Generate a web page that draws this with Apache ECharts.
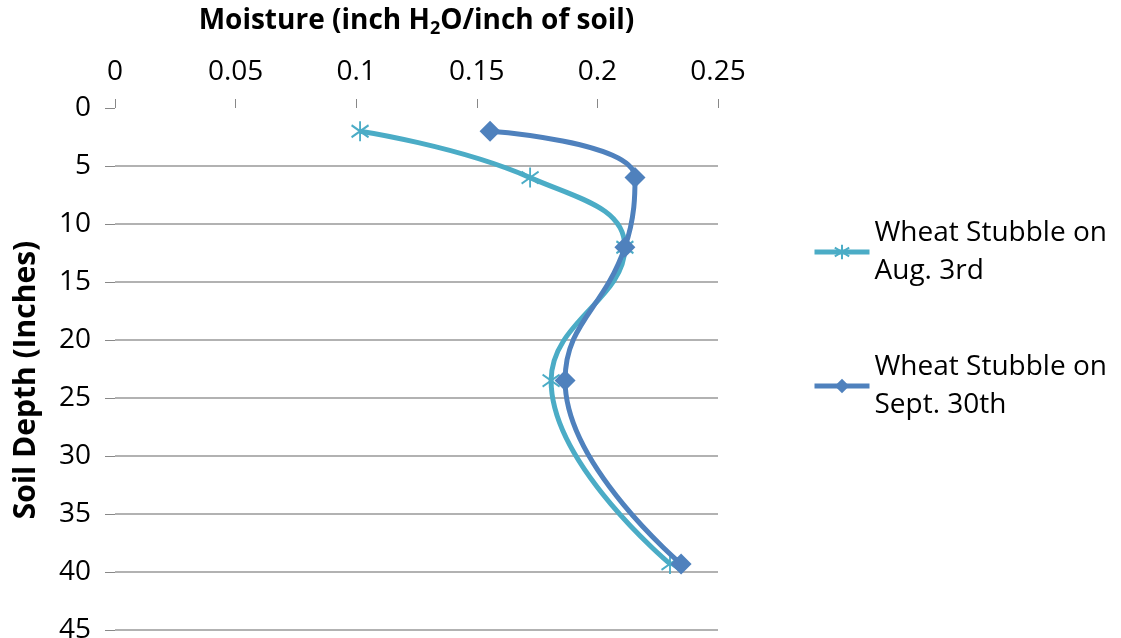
<!DOCTYPE html>
<html>
<head>
<meta charset="utf-8">
<script src="https://cdn.jsdelivr.net/npm/echarts@6/dist/echarts.min.js"></script>
<style>
html,body{margin:0;padding:0;background:#fff;}
#chart{width:1121px;height:638px;}
</style>
</head>
<body>
<div id="chart"></div>
<script>
const depths = [2, 6, 12, 23.5, 39.3];
const aug3 = [0.1016, 0.1721, 0.2114, 0.1808, 0.2301];
const sep30 = [0.1555, 0.2156, 0.2114, 0.1866, 0.2347];
const seriesNames = ['Wheat Stubble on\nAug. 3rd', 'Wheat Stubble on\nSept. 30th'];
const xTicks = [0, 0.05, 0.1, 0.15, 0.2, 0.25];
const yTicks = [0, 5, 10, 15, 20, 25, 30, 35, 40, 45];

const FONT = 'Open Sans';
const starPath = 'path://M0,-10L0,10M-8,-6L8,6M-8,6L8,-6';

const chart = echarts.init(document.getElementById('chart'));
chart.setOption({
  animation: false,
  textStyle: { fontFamily: FONT },
  grid: { left: 115, right: 403, top: 108, bottom: 8, outerBoundsMode: 'none', containLabel: false },
  xAxis: {
    type: 'value', position: 'top',
    min: xTicks[0], max: xTicks[xTicks.length - 1], interval: 0.05,
    name: 'Moisture (inch H{sub|2}O/inch of soil)',
    nameLocation: 'middle', nameGap: 70,
    nameTextStyle: {
      fontFamily: FONT, fontSize: 28, fontWeight: 'bold', color: '#000',
      rich: { sub: { fontFamily: FONT, fontSize: 18, fontWeight: 'bold', verticalAlign: 'bottom', padding: [16, 0, 0, 0] } }
    },
    axisLine: { show: false },
    axisTick: { show: true, length: 9, lineStyle: { color: '#888', width: 1 } },
    axisLabel: { fontFamily: FONT, fontSize: 28, color: '#000', margin: 22,
      formatter: v => String(v) },
    splitLine: { show: false }
  },
  yAxis: {
    type: 'value', inverse: true,
    min: yTicks[0], max: yTicks[yTicks.length - 1], interval: 5,
    name: 'Soil Depth (Inches)', nameLocation: 'middle', nameGap: 74, nameRotate: 90,
    nameTextStyle: { fontFamily: FONT, fontSize: 30, fontWeight: 'bold', color: '#000', padding: [0, 22, 0, 0] },
    axisLine: { show: false },
    axisTick: { show: true, length: 10, lineStyle: { color: '#888', width: 1 } },
    axisLabel: { fontFamily: FONT, fontSize: 28, color: '#000', margin: 24 },
    splitLine: { show: true, showMinLine: false, lineStyle: { color: '#999', width: 1.5 } }
  },
  legend: {
    orient: 'vertical', left: 807, top: 190,
    itemWidth: 55, itemHeight: 18, itemGap: 20,
    lineStyle: { width: 5 },
    textStyle: { fontFamily: FONT, fontSize: 28, color: '#000', lineHeight: 38, padding: [38, 0, 0, 0] },
    data: seriesNames
  },
  series: [
    {
      name: seriesNames[0], type: 'line', smooth: 0.45,
      data: aug3.map((v, i) => [v, depths[i]]),
      symbol: starPath, symbolSize: [17, 20],
      lineStyle: { color: '#4BACC6', width: 5 },
      itemStyle: { color: 'rgba(0,0,0,0)', borderColor: '#4BACC6', borderWidth: 2 },
      z: 2
    },
    {
      name: seriesNames[1], type: 'line', smooth: 0.45,
      data: sep30.map((v, i) => [v, depths[i]]),
      symbol: 'diamond', symbolSize: 21,
      lineStyle: { color: '#4F81BD', width: 5 },
      itemStyle: { color: '#4F81BD' },
      z: 3
    }
  ]
});
</script>
</body>
</html>
